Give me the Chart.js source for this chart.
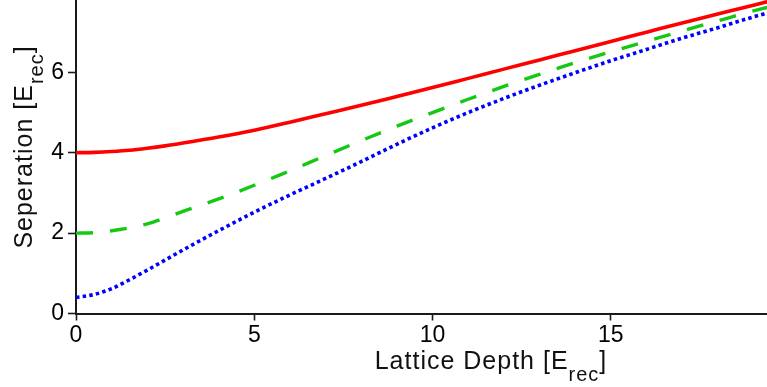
<!DOCTYPE html>
<html>
<head>
<meta charset="utf-8">
<script src="https://cdn.jsdelivr.net/npm/chart.js@4/dist/chart.umd.min.js"></script>
<style>
  body { margin: 0; background: #fff; }
  canvas { display: block; }
</style>
</head>
<body>
<canvas id="gapChart" width="767" height="387"></canvas>
<script>
// lattice depth samples [E_rec]
const depth = [0, 0.5, 1, 1.5, 2, 2.5, 3, 4, 5, 6, 7, 8, 9, 10, 11, 12, 13, 14, 15, 16, 17, 18, 19, 19.4];
// band separations [E_rec]
const sepRed   = [4.00, 4.01, 4.03, 4.06, 4.11, 4.17, 4.24, 4.39, 4.56, 4.76, 4.97, 5.18, 5.40, 5.62, 5.85, 6.08, 6.31, 6.54, 6.77, 7.00, 7.23, 7.45, 7.67, 7.76];
const sepGreen = [2.00, 2.01, 2.06, 2.13, 2.23, 2.38, 2.54, 2.85, 3.19, 3.55, 3.93, 4.30, 4.66, 5.00, 5.33, 5.65, 5.95, 6.24, 6.51, 6.77, 7.03, 7.28, 7.53, 7.62];
const sepBlue  = [0.40, 0.47, 0.62, 0.84, 1.08, 1.33, 1.58, 2.06, 2.52, 2.95, 3.36, 3.78, 4.21, 4.62, 5.00, 5.35, 5.68, 5.99, 6.29, 6.57, 6.85, 7.11, 7.38, 7.48];
const xTicks = [0, 5, 10, 15];
const yTicks = [0, 2, 4, 6];

const FONT = '"Liberation Sans", Arial, sans-serif';
const pts = ys => depth.map((x, i) => ({ x: x, y: ys[i] }));

// axis titles with a subscript, drawn straight onto the canvas
const axisTitles = {
  id: 'axisTitles',
  afterDraw(chart) {
    const c = chart.ctx;
    const drawLabel = (main, sub, tail, cx, base, subDrop) => {
      c.letterSpacing = '1px';
      c.font = '25px ' + FONT;
      const w1 = c.measureText(main).width;
      const w3 = c.measureText(tail).width;
      c.font = '20px ' + FONT;
      const w2 = c.measureText(sub).width;
      let x = cx - (w1 + w2 + w3) / 2;
      c.textBaseline = 'alphabetic';
      c.textAlign = 'left';
      c.fillStyle = '#111';
      c.font = '25px ' + FONT;
      c.fillText(main, x, base);
      x += w1;
      c.font = '20px ' + FONT;
      c.fillText(sub, x, base + subDrop);
      x += w2;
      c.font = '25px ' + FONT;
      c.fillText(tail, x, base);
    };
    c.save();
    drawLabel('Lattice Depth [E', 'rec', ']', 491, 369, 12);
    c.restore();

    c.save();
    c.translate(32, 147);
    c.rotate(-Math.PI / 2);
    drawLabel('Seperation [E', 'rec', ']', 0, 0, 11);
    c.restore();
  }
};

const ctx = document.getElementById('gapChart').getContext('2d');
new Chart(ctx, {
  type: 'line',
  data: {
    datasets: [
      {
        data: pts(sepRed),
        borderColor: '#ff0000',
        borderWidth: 3.6,
      },
      {
        data: pts(sepGreen),
        borderColor: '#14c814',
        borderWidth: 3.4,
        borderDash: [17, 17],
      },
      {
        data: pts(sepBlue),
        borderColor: '#0000ff',
        borderWidth: 3.6,
        borderDash: [3.5, 3.2],
      },
    ],
  },
  options: {
    responsive: false,
    animation: false,
    devicePixelRatio: 1,
    layout: { padding: 0 },
    elements: {
      point: { radius: 0 },
      line: { cubicInterpolationMode: 'monotone', borderCapStyle: 'butt' },
    },
    plugins: {
      legend: { display: false },
      tooltip: { enabled: false },
    },
    scales: {
      x: {
        type: 'linear',
        min: 0,
        max: 19.38,
        afterBuildTicks: s => { s.ticks = xTicks.map(v => ({ value: v })); },
        afterFit: s => { s.height = 73.5; s.paddingLeft = 0; s.paddingRight = 0; },
        border: { color: '#1a1a1a', width: 2 },
        grid: { drawOnChartArea: false, drawTicks: true, tickLength: 7, tickColor: '#1a1a1a', tickWidth: 1.6 },
        ticks: { font: { family: FONT, size: 23 }, color: '#000', padding: 1, maxRotation: 0 },
      },
      y: {
        type: 'linear',
        min: 0,
        max: 7.8,
        afterBuildTicks: s => { s.ticks = yTicks.map(v => ({ value: v })); },
        afterFit: s => { s.width = 76; s.paddingTop = 0; s.paddingBottom = 0; },
        border: { color: '#1a1a1a', width: 2 },
        grid: { drawOnChartArea: false, drawTicks: true, tickLength: 8, tickColor: '#1a1a1a', tickWidth: 1.6 },
        ticks: { font: { family: FONT, size: 23 }, color: '#000', padding: 4 },
      },
    },
  },
  plugins: [axisTitles],
});
</script>
</body>
</html>
